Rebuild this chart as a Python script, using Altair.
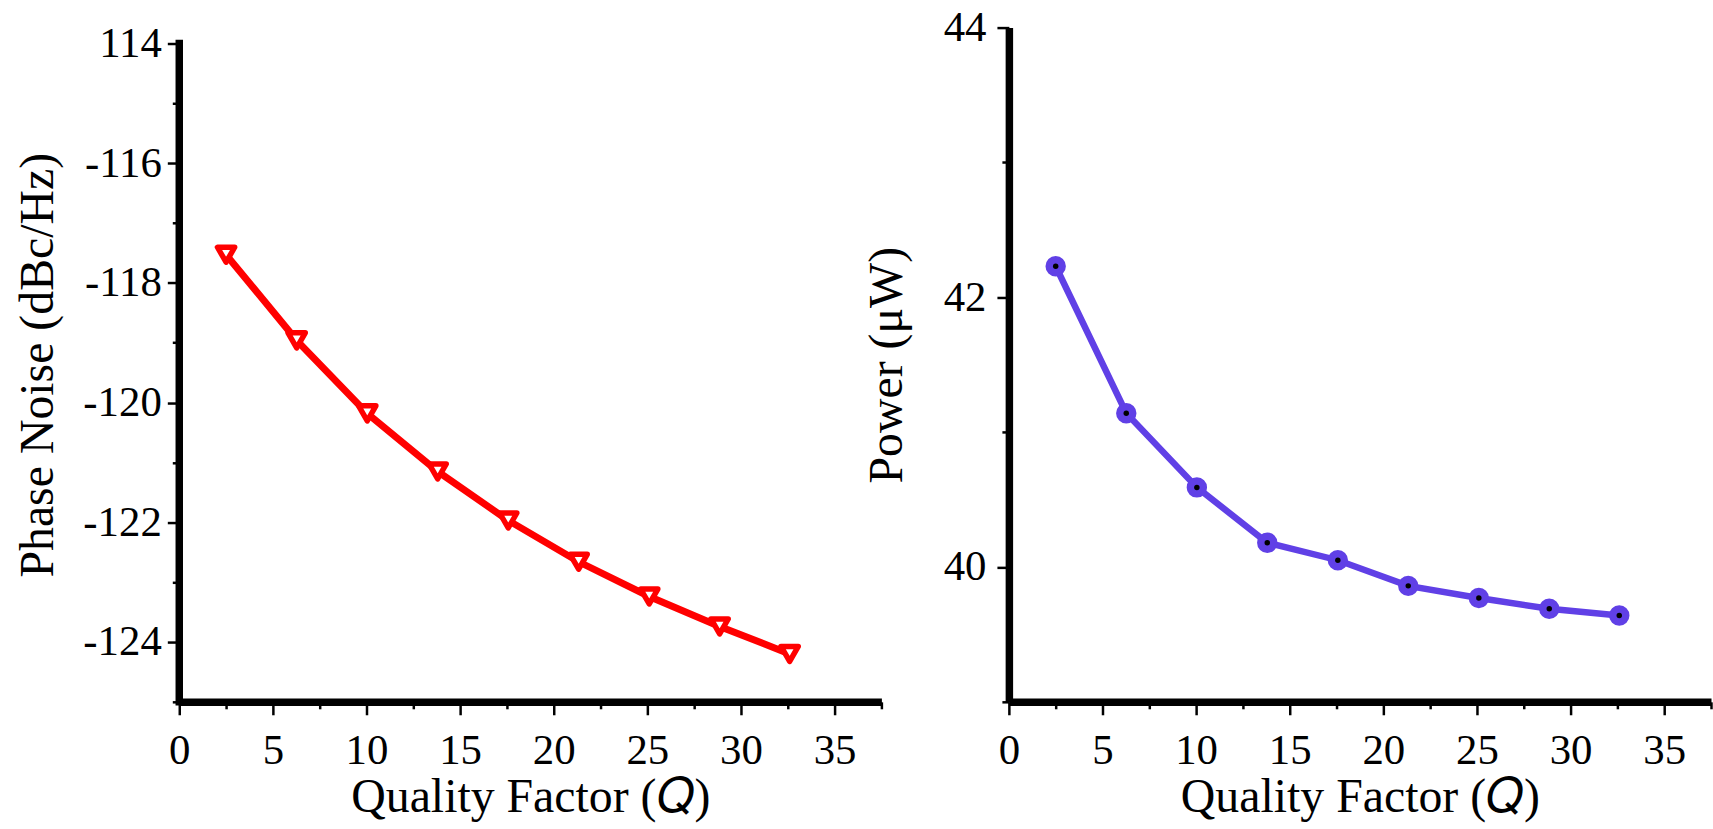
import altair as alt
import pandas as pd

# Data
quality_factor = [2.5, 6.27, 10.04, 13.8, 17.57, 21.33, 25.1, 28.86, 32.6]
phase_noise = [-117.53, -118.96, -120.18, -121.15, -121.97, -122.66, -123.24, -123.74, -124.2]
power_uw = [42.23, 41.14, 40.59, 40.18, 40.05, 39.86, 39.77, 39.69, 39.64]

x_ticks = [0, 2.5, 5, 7.5, 10, 12.5, 15, 17.5, 20, 22.5, 25, 27.5, 30, 32.5, 35, 37.5]
pn_ticks = [-125, -124, -123, -122, -121, -120, -119, -118, -117, -116, -115, -114]
pw_ticks = [39, 40, 41, 42, 43, 44]
pn_axis_span = [-125, -114]

df = pd.DataFrame({"Q": quality_factor, "PN": phase_noise, "P": power_uw})
span_df = pd.DataFrame({"x0": [0], "lo": [pn_axis_span[0]], "hi": [pn_axis_span[1]]})

FONT = "Liberation Serif"
RED = "#FF0000"
PURPLE = "#6040E6"

W = 705
H = 677

x_scale = alt.Scale(domain=[0, 37.5], nice=False, zero=False)


def x_axis():
    return alt.Axis(
        title="Quality Factor (𝑄)",
        values=x_ticks,
        labelExpr="datum.value % 5 === 0 ? datum.label : ''",
        tickSize={"condition": {"test": "datum.value % 5 === 0", "value": 13}, "value": 7},
        tickWidth=2.5,
        tickColor="black",
        domainColor="black",
        domainWidth=7.5,
        labelFont=FONT,
        labelFontSize=43,
        labelColor="black",
        labelPadding=15,
        labelFlush=False,
        labelOverlap=False,
        titleFont=FONT,
        titleFontSize=48,
        titleFontWeight="normal",
        titleColor="black",
        titlePadding=1,
        grid=False,
    )


# ---------- left panel: phase noise ----------
pn_scale = alt.Scale(domain=[-125, -113.735], nice=False, zero=False)
pn_axis = alt.Axis(
    title="Phase Noise (dBc/Hz)",
    values=pn_ticks,
    labelExpr="datum.value % 2 === 0 ? (datum.value === -114 ? '114' : '-' + abs(datum.value)) : ''",
    tickSize={"condition": {"test": "datum.value % 2 === 0", "value": 12}, "value": 7},
    tickWidth=2.5,
    tickColor="black",
    domain=False,
    labelFont=FONT,
    labelFontSize=43,
    labelColor="black",
    labelPadding=6,
    labelFlush=False,
    labelOverlap=False,
    titleFont=FONT,
    titleFontSize=48,
    titleFontWeight="normal",
    titleColor="black",
    titlePadding=20,
    grid=False,
)

left_axis_line = alt.Chart(span_df).mark_rule(color="black", strokeWidth=7.5, strokeCap="square").encode(
    x=alt.X("x0:Q", scale=x_scale, axis=x_axis()),
    y=alt.Y("lo:Q", scale=pn_scale, axis=pn_axis),
    y2="hi:Q",
)

left_line = alt.Chart(df).mark_line(color=RED, strokeWidth=7).encode(
    x=alt.X("Q:Q", scale=x_scale),
    y=alt.Y("PN:Q", scale=pn_scale),
)
left_pts = alt.Chart(df).mark_point(
    shape="triangle-down", filled=True, fill="white", stroke=RED, strokeWidth=5.5,
    size=300, strokeJoin="round", opacity=1,
).encode(
    x=alt.X("Q:Q", scale=x_scale),
    y=alt.Y("PN:Q", scale=pn_scale),
)

left = alt.layer(left_axis_line, left_line, left_pts).properties(width=W, height=H)

# ---------- right panel: power ----------
pw_scale = alt.Scale(domain=[39, 44], nice=False, zero=False)
pw_axis = alt.Axis(
    title="Power (μW)",
    values=pw_ticks,
    labelExpr="datum.value % 2 === 0 ? '' + datum.value : ''",
    tickSize={"condition": {"test": "datum.value % 2 === 0", "value": 12}, "value": 7},
    tickWidth=2.5,
    tickColor="black",
    domainColor="black",
    domainWidth=7.5,
    labelFont=FONT,
    labelFontSize=43,
    labelColor="black",
    labelPadding=11,
    labelFlush=False,
    labelOverlap=False,
    titleFont=FONT,
    titleFontSize=48,
    titleFontWeight="normal",
    titleColor="black",
    titlePadding=32,
    grid=False,
)

right_line = alt.Chart(df).mark_line(color=PURPLE, strokeWidth=6.5).encode(
    x=alt.X("Q:Q", scale=x_scale, axis=x_axis()),
    y=alt.Y("P:Q", scale=pw_scale, axis=pw_axis),
)
right_pts = alt.Chart(df).mark_point(shape="circle", filled=True, color=PURPLE, size=420, opacity=1).encode(
    x=alt.X("Q:Q", scale=x_scale),
    y=alt.Y("P:Q", scale=pw_scale),
)
right_dots = alt.Chart(df).mark_point(shape="circle", filled=True, color="black", size=30, opacity=1).encode(
    x=alt.X("Q:Q", scale=x_scale),
    y=alt.Y("P:Q", scale=pw_scale),
)

right = alt.layer(right_line, right_pts, right_dots).properties(width=W, height=H)

chart = alt.hconcat(left, right, spacing=128, bounds="flush").properties(
    padding={"left": 15, "top": 5, "right": 0, "bottom": 5},
    background="white",
).configure_view(stroke=None)

chart.save("out.html", embed_options={"renderer": "svg", "actions": False})
